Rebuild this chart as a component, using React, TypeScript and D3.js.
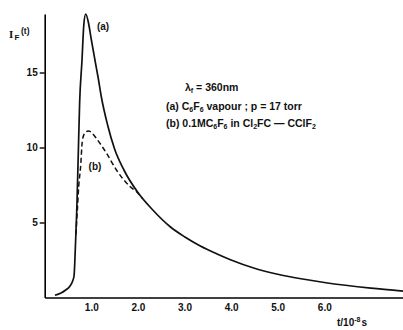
import React, { useEffect, useRef } from 'react';
import * as d3 from 'd3';

// curve (a): C6F6 vapour, solid
const tA = [0.22, 0.35, 0.45, 0.54, 0.6, 0.63, 0.66, 0.69, 0.72, 0.75, 0.8, 0.84, 0.88, 0.94, 1.0, 1.08, 1.15, 1.22, 1.35, 1.5, 1.7, 2.0, 2.3, 2.7, 3.0, 3.33, 3.7, 4.0, 4.5, 5.0, 5.5, 6.0, 7.0, 7.7];
const vA = [0.15, 0.3, 0.5, 0.75, 1.1, 1.45, 3.5, 6.0, 9.5, 13.0, 15.8, 18.2, 18.9, 18.3, 17.2, 15.8, 14.6, 13.3, 11.5, 9.9, 8.5, 7.0, 5.9, 4.7, 4.05, 3.45, 2.9, 2.5, 1.95, 1.55, 1.25, 1.0, 0.62, 0.42];

// curve (b): C6F6 in solution, dashed
const tB = [0.67, 0.7, 0.73, 0.77, 0.81, 0.87, 0.94, 1.02, 1.11, 1.33, 1.54, 1.83, 1.97, 2.1];
const vB = [4.2, 5.8, 7.4, 8.7, 10.5, 11.0, 11.1, 10.95, 10.6, 9.6, 8.5, 7.4, 7.05, 6.6];

const xTicks = [1, 2, 3, 4, 5, 6];
const xTickLabels = ['1.0', '2.0', '3.0', '4.0', '5.0', '6.0'];
const yTicks = [5, 10, 15];

const W = 403;
const H = 330;
const FONT = '"Liberation Sans", Arial, sans-serif';

const App = () => {
  const svgRef = useRef<SVGSVGElement>(null);

  useEffect(() => {
    const svg = d3.select(svgRef.current);
    svg.selectAll('*').remove();

    const x = d3.scaleLinear().domain([0, 7.7]).range([44.7, 403.5]);
    const y = d3.scaleLinear().domain([0, 18.9]).range([297.5, 14]);

    const lineA = d3.line<number>()
      .x((_, i) => x(tA[i]))
      .y(d => y(d))
      .curve(d3.curveMonotoneX);
    const lineB = d3.line<number>()
      .x((_, i) => x(tB[i]))
      .y(d => y(d))
      .curve(d3.curveMonotoneX);

    // y axis
    const yAxis = svg.append('g')
      .attr('transform', `translate(${x(0)},0)`)
      .call(d3.axisLeft(y).tickValues(yTicks).tickSize(5).tickSizeOuter(0).tickPadding(2).tickFormat(d3.format('d')));
    yAxis.select('.domain').attr('stroke-width', 1.6);
    yAxis.selectAll('line').attr('stroke-width', 1.4);
    yAxis.selectAll('text').attr('font-family', FONT).attr('font-weight', 'bold').attr('font-size', 10).attr('fill', '#111');

    // x axis
    const xAxis = svg.append('g')
      .attr('transform', `translate(0,${y(0)})`)
      .call(d3.axisBottom(x).tickValues(xTicks).tickSize(0).tickSizeOuter(0).tickPadding(6)
        .tickFormat((_, i) => xTickLabels[i]));
    xAxis.select('.domain').attr('stroke-width', 1.6);
    xAxis.selectAll('text').attr('font-family', FONT).attr('font-weight', 'bold').attr('font-size', 10).attr('fill', '#111');

    svg.append('path')
      .datum(vA)
      .attr('fill', 'none')
      .attr('stroke', '#111')
      .attr('stroke-width', 1.7)
      .attr('d', lineA);

    svg.append('path')
      .datum(vB)
      .attr('fill', 'none')
      .attr('stroke', '#111')
      .attr('stroke-width', 1.5)
      .attr('stroke-dasharray', '5,3')
      .attr('d', lineB);

    const txt = (tx: number, ty: number, anchor = 'start', size = 10) =>
      svg.append('text')
        .attr('x', tx).attr('y', ty)
        .attr('text-anchor', anchor)
        .attr('font-family', FONT)
        .attr('font-weight', 'bold')
        .attr('font-size', size)
        .attr('fill', '#111');

    txt(103, 30, 'middle').text('(a)');
    txt(95, 170, 'middle').text('(b)');

    // y label
    txt(9, 38, 'start', 11).attr('font-family', '"Liberation Serif", serif').text('I');
    txt(14.5, 40, 'start', 8).text('F');
    txt(21, 34, 'start', 8.5).text('(t)');

    // x label
    const xl = txt(337, 326);
    xl.append('tspan').text('t/10');
    xl.append('tspan').attr('dy', -4).attr('font-size', 7).text('-8');
    xl.append('tspan').attr('dy', 4).attr('dx', 1).text('s');

    // annotation
    const l1 = txt(185, 91, 'start', 10.5);
    l1.append('tspan').text('λ');
    l1.append('tspan').attr('dy', 2).attr('font-size', 7).text('f');
    l1.append('tspan').attr('dy', -2).text(' = 360nm');

    const l2 = txt(166, 110, 'start', 10.5);
    l2.append('tspan').text('(a) C');
    l2.append('tspan').attr('dy', 2).attr('font-size', 7).text('6');
    l2.append('tspan').attr('dy', -2).text('F');
    l2.append('tspan').attr('dy', 2).attr('font-size', 7).text('6');
    l2.append('tspan').attr('dy', -2).text(' vapour ; p = 17 torr');

    const l3 = txt(166, 127, 'start', 10.5);
    l3.append('tspan').text('(b) 0.1MC');
    l3.append('tspan').attr('dy', 2).attr('font-size', 7).text('6');
    l3.append('tspan').attr('dy', -2).text('F');
    l3.append('tspan').attr('dy', 2).attr('font-size', 7).text('6');
    l3.append('tspan').attr('dy', -2).text(' in Cl');
    l3.append('tspan').attr('dy', 2).attr('font-size', 7).text('2');
    l3.append('tspan').attr('dy', -2).text('FC — CClF');
    l3.append('tspan').attr('dy', 2).attr('font-size', 7).text('2');
  }, []);

  return (
    <svg
      ref={svgRef}
      width={W}
      height={H}
      viewBox={`0 0 ${W} ${H}`}
      style={{ position: 'absolute', left: 0, top: 0, background: '#fff' }}
    />
  );
};

export default App;
